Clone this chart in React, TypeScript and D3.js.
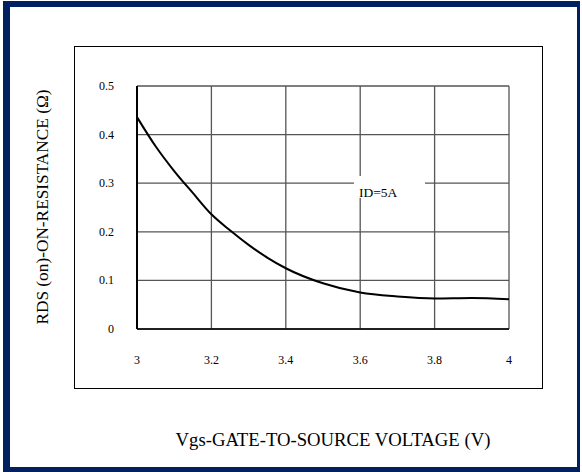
import React from "react";
import * as d3 from "d3";

// Vgs (V) vs RDS(on) (Ω)
const vgs = [3.0, 3.05, 3.1, 3.15, 3.2, 3.25, 3.3, 3.35, 3.4, 3.5, 3.6, 3.7, 3.8, 3.9, 4.0];
const rds = [0.436, 0.376, 0.325, 0.28, 0.236, 0.203, 0.173, 0.147, 0.125, 0.094, 0.075, 0.067, 0.063, 0.064, 0.061];
const xTicks = [3, 3.2, 3.4, 3.6, 3.8, 4];
const yTicks = [0, 0.1, 0.2, 0.3, 0.4, 0.5];

const W = 582;
const H = 472;
const font = "'Times New Roman', 'Liberation Serif', serif";

export default function App() {
  const x = d3.scaleLinear().domain([3, 4]).range([137, 509]);
  const y = d3.scaleLinear().domain([0, 0.5]).range([329, 86]);

  const pts: [number, number][] = vgs.map((v, i) => [x(v), y(rds[i])]);
  const line = d3.line().curve(d3.curveMonotoneX)(pts) || "";

  return (
    <svg width={W} height={H} style={{ position: "absolute", left: 0, top: 0 }}>
      {/* blue frame */}
      <rect x={3} y={1} width={577} height={471} fill="#002060" />
      <rect x={10} y={7} width={567} height={460} fill="#fff" />

      {/* chart area box */}
      <rect x={74.5} y={46.5} width={468} height={342} fill="none" stroke="#000" strokeWidth={1} />

      {/* grid */}
      {yTicks.map((t) => (
        <line key={"gy" + t} x1={x(3)} x2={x(4)} y1={y(t)} y2={y(t)} stroke="#555" strokeWidth={1.3} />
      ))}
      {xTicks.map((t) => (
        <line key={"gx" + t} x1={x(t)} x2={x(t)} y1={y(0)} y2={y(0.5)} stroke="#555" strokeWidth={1.3} />
      ))}
      <line x1={x(3)} x2={x(3)} y1={y(0)} y2={y(0.5)} stroke="#000" strokeWidth={2} />
      <line x1={x(3)} x2={x(4)} y1={y(0)} y2={y(0)} stroke="#000" strokeWidth={1.5} />

      {/* curve */}
      <path d={line} fill="none" stroke="#000" strokeWidth={2} />

      {/* annotation */}
      <rect x={354} y={176} width={71} height={22} fill="#fff" />
      <text x={359} y={197} fontFamily={font} fontSize={13.5} fill="#000">
        ID=5A
      </text>

      {/* tick labels */}
      {yTicks.map((t) => (
        <text key={"ly" + t} x={114} y={y(t) + 4} textAnchor="end" fontFamily={font} fontSize={12} fill="#000">
          {t}
        </text>
      ))}
      {xTicks.map((t) => (
        <text key={"lx" + t} x={x(t)} y={364} textAnchor="middle" fontFamily={font} fontSize={12} fill="#000">
          {t}
        </text>
      ))}

      {/* axis titles */}
      <text x={333} y={446} textAnchor="middle" fontFamily={font} fontSize={18.7} fill="#000">
        Vgs-GATE-TO-SOURCE VOLTAGE (V)
      </text>
      <text
        transform={`translate(48,207) rotate(-90)`}
        textAnchor="middle"
        fontFamily={font}
        fontSize={17.3}
        fill="#000"
      >
        RDS (on)-ON-RESISTANCE (Ω)
      </text>
    </svg>
  );
}
